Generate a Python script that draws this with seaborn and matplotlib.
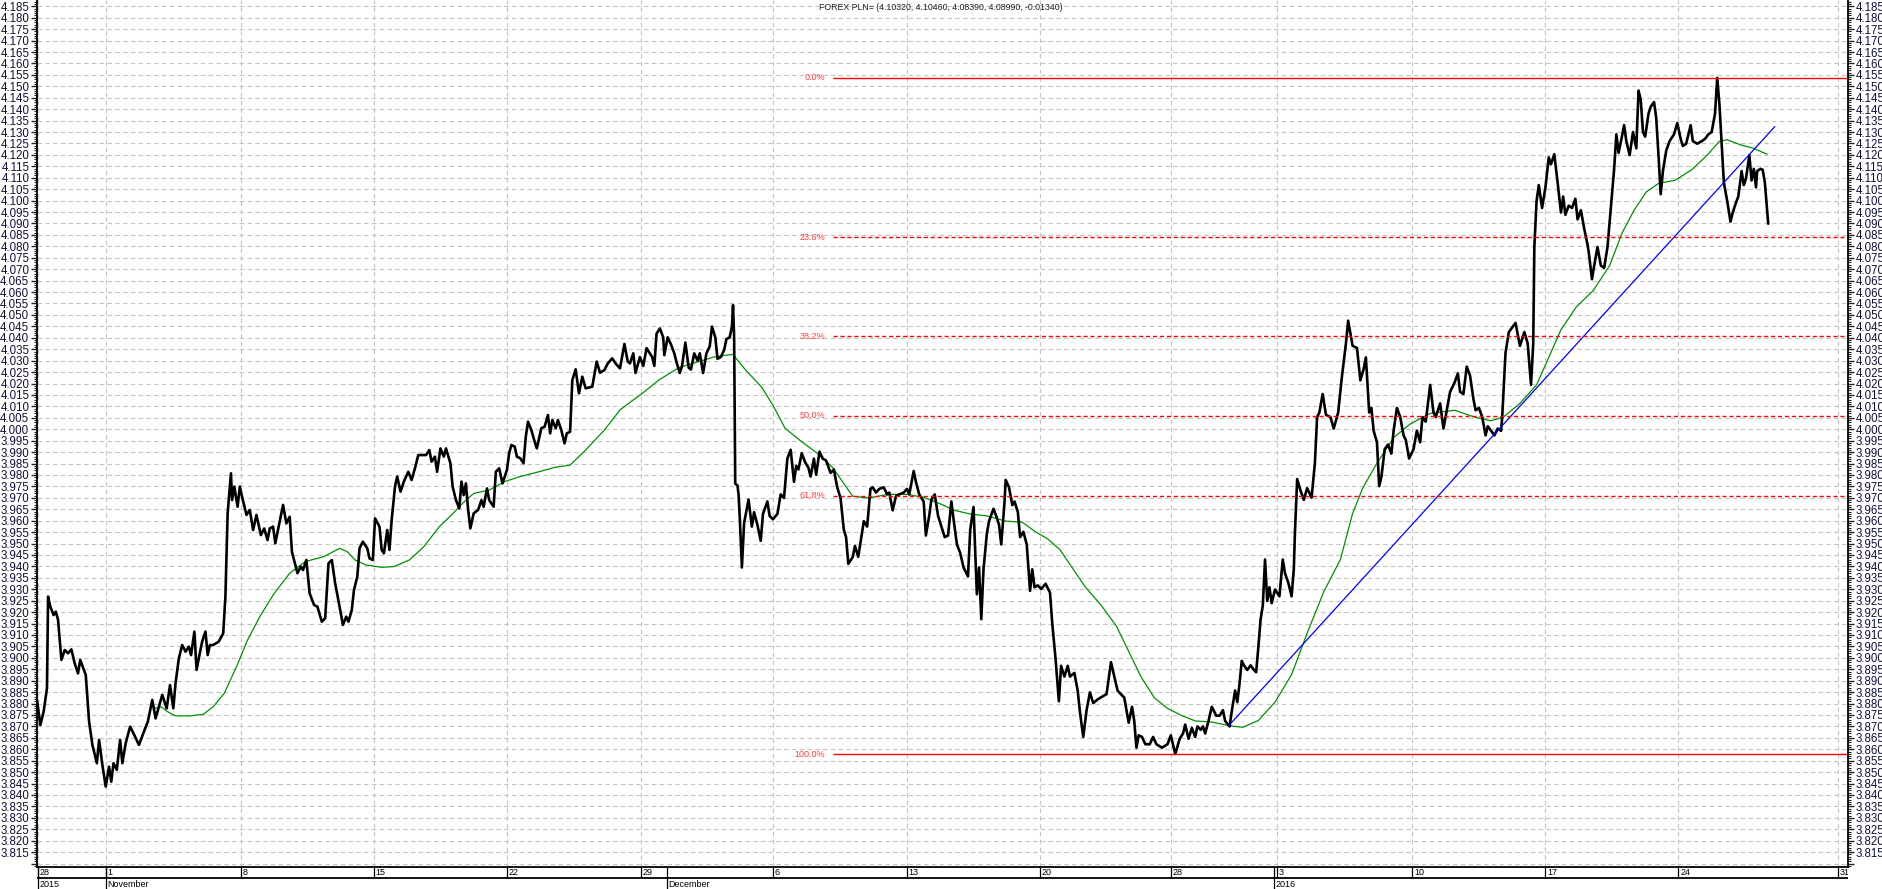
import numpy as np
import pandas as pd
import matplotlib
matplotlib.use("Agg")
from matplotlib import pyplot as plt
from matplotlib.ticker import MultipleLocator, FuncFormatter
import seaborn as sns

# hourly bar index / close price
hours = [0, 3, 6, 9, 10, 12, 15, 17, 19, 22, 25, 28, 31, 34, 37, 39, 44, 47, 50, 54,
         56, 59, 62, 65, 67, 69, 72, 75, 77, 80, 84, 87, 92, 97, 100, 104, 107, 110, 113, 117,
         120, 123, 125, 128, 131, 134, 137, 139, 142, 144, 146, 149, 152, 154, 156, 159, 164, 168, 170, 172,
         175, 176, 178, 181, 183, 185, 189, 192, 195, 198, 202, 205, 208, 210, 213, 215, 218, 222, 225, 228,
         230, 235, 238, 240, 243, 246, 250, 253, 257, 260, 263, 266, 269, 273, 276, 279, 281, 284, 286, 289,
         291, 294, 298, 300, 303, 305, 309, 311, 313, 316, 318, 320, 323, 325, 328, 331, 335, 338, 341, 344,
         348, 351, 354, 356, 359, 361, 364, 367, 369, 373, 375, 378, 381, 383, 385, 387, 389, 391, 394, 398,
         401, 403, 406, 408, 412, 414, 417, 420, 424, 426, 428, 431, 433, 436, 439, 441, 443, 446, 449, 451,
         455, 458, 461, 463, 465, 468, 470, 473, 476, 478, 481, 483, 486, 489, 492, 495, 501, 505, 508, 512,
         515, 519, 522, 526, 530, 533, 535,
         538, 540, 544, 547, 550, 552, 555, 557, 559, 562, 565, 566, 569, 572, 575, 577, 580, 582, 585, 588,
         590, 593, 596, 598, 601, 604, 607, 609, 612, 614, 617, 620, 622, 625, 627, 628, 629, 630, 632, 633,
         634, 636, 638, 642, 645, 647, 650, 653, 655, 659, 661, 664, 668, 671, 674, 677, 680, 683, 685, 687,
         690, 693, 696, 698, 701, 703, 706, 709, 712, 716, 719, 722, 725, 728, 730, 732, 736, 738, 741, 743,
         746, 749, 752, 754, 757, 760, 764, 767, 769, 772, 775, 778, 782, 785, 787, 791, 793, 796, 800, 802,
         805, 807, 810, 813, 816, 819, 822, 825, 827, 830, 833, 836, 840, 842, 845, 848, 850, 852, 854, 857,
         859, 863, 866, 868, 870, 873, 874, 877, 880, 882, 885, 887, 890, 893, 896, 898, 900, 903, 906, 910,
         914, 916, 919, 922, 924, 927, 930, 932, 936, 939, 941, 944, 947, 950, 953, 957, 962, 965, 969, 972,
         975, 978, 981, 985, 988, 990, 992, 994, 997, 1000, 1004, 1007, 1010, 1015, 1020, 1023, 1027, 1031, 1034, 1036,
         1039, 1042, 1045, 1047, 1050, 1052, 1054, 1057, 1060, 1064, 1067, 1070, 1072, 1076,
         1078, 1081, 1083, 1085, 1087, 1089, 1092, 1095, 1098, 1100, 1102, 1104, 1106, 1108, 1110, 1112, 1114, 1117, 1121, 1124,
         1126, 1129, 1132, 1134, 1135, 1137, 1140, 1143, 1146, 1150, 1153, 1155, 1157, 1160, 1163, 1167, 1170, 1174, 1177, 1179,
         1181, 1183, 1187, 1191, 1194, 1197, 1199, 1202, 1204, 1206, 1209, 1211, 1213, 1216, 1219, 1222, 1224, 1227, 1230, 1233,
         1235, 1238, 1242, 1245, 1248, 1250, 1253, 1257, 1260, 1262, 1266, 1269, 1272, 1275, 1279, 1282, 1284, 1287, 1290, 1293,
         1296, 1298, 1301, 1304, 1307, 1309, 1312, 1315, 1318, 1321, 1322, 1325, 1328, 1331, 1334, 1338, 1342, 1345, 1348, 1350,
         1351, 1353, 1355, 1358, 1361, 1364, 1366, 1369, 1372, 1375, 1377, 1379, 1382, 1385, 1388, 1390, 1393, 1396, 1399, 1400,
         1403, 1405, 1408, 1411, 1414, 1417, 1420, 1423, 1425, 1427, 1430, 1432, 1434, 1437, 1440, 1443, 1445, 1447, 1449, 1451,
         1454, 1456, 1459, 1461, 1463, 1465, 1467, 1470, 1473, 1477, 1480, 1483, 1485, 1488, 1492, 1494, 1498, 1502, 1505, 1508,
         1511, 1514, 1516, 1518, 1521, 1522, 1525, 1528, 1530, 1532, 1535, 1538, 1540, 1542, 1545, 1547, 1549, 1551, 1552, 1555,
         1557, 1559, 1562]
close = [3.8816, 3.8706, 3.8765, 3.8867, 3.9268, 3.9224, 3.9187, 3.9202, 3.9166, 3.8991, 3.9034, 3.9020, 3.9037, 3.8976, 3.8932, 3.8991, 3.8925, 3.8721, 3.8619, 3.8539,
         3.8641, 3.8531, 3.8437, 3.8524, 3.8458, 3.8539, 3.8510, 3.8641, 3.8539, 3.8626, 3.8699, 3.8670, 3.8619, 3.8684, 3.8721, 3.8816, 3.8735, 3.8786, 3.8838, 3.8779,
         3.8881, 3.8779, 3.8889, 3.8998, 3.9056, 3.9027, 3.9049, 3.9012, 3.9115, 3.8947, 3.8998, 3.9071, 3.9115, 3.9012, 3.9056, 3.9056, 3.9071, 3.9107, 3.9268, 3.9632,
         3.9807, 3.9690, 3.9749, 3.9661, 3.9749, 3.9705, 3.9625, 3.9647, 3.9559, 3.9625, 3.9537, 3.9566, 3.9515, 3.9566, 3.9574, 3.9501, 3.9574, 3.9669, 3.9588, 3.9617,
         3.9464, 3.9370, 3.9399, 3.9384, 3.9428, 3.9282, 3.9231, 3.9224, 3.9158, 3.9173, 3.9413, 3.9428, 3.9326, 3.9224, 3.9144, 3.9180, 3.9158, 3.9209, 3.9297, 3.9355,
         3.9479, 3.9508, 3.9479, 3.9435, 3.9428, 3.9610, 3.9574, 3.9472, 3.9457, 3.9559, 3.9472, 3.9603, 3.9749, 3.9793, 3.9727, 3.9771, 3.9814, 3.9778, 3.9829, 3.9887,
         3.9887, 3.9887, 3.9909, 3.9858, 3.9880, 3.9814, 3.9916, 3.9880, 3.9916, 3.9851, 3.9749, 3.9690, 3.9654, 3.9771, 3.9712, 3.9763, 3.9647, 3.9566, 3.9632, 3.9647,
         3.9690, 3.9661, 3.9741, 3.9690, 3.9661, 3.9814, 3.9829, 3.9763, 3.9822, 3.9895, 3.9931, 3.9924, 3.9880, 3.9873, 3.9851, 3.9967, 4.0033, 3.9997, 3.9946, 3.9916,
         4.0004, 4.0011, 4.0062, 3.9982, 4.0040, 4.0004, 4.0040, 3.9997, 3.9938, 3.9982, 3.9989, 4.0215, 4.0262, 4.0157, 4.0230, 4.0179, 4.0186, 4.0296, 4.0247, 4.0259,
         4.0288, 4.0310, 4.0288, 4.0266, 4.0373, 4.0296, 4.0288,
         4.0332, 4.0246, 4.0316, 4.0277, 4.0355, 4.0339, 4.0316, 4.0277, 4.0418, 4.0441, 4.0402, 4.0324, 4.0402, 4.0371, 4.0332, 4.0293, 4.0246, 4.0277, 4.0379, 4.0269,
         4.0261, 4.0332, 4.0300, 4.0332, 4.0246, 4.0332, 4.0363, 4.0449, 4.0402, 4.0308, 4.0316, 4.0347, 4.0394, 4.0402, 4.0449, 4.0543, 4.0402, 3.9762, 3.9754, 3.9715,
         3.9621, 3.9395, 3.9590, 3.9692, 3.9574, 3.9637, 3.9582, 3.9512, 3.9629, 3.9684, 3.9621, 3.9606, 3.9629, 3.9715, 3.9699, 3.9871, 3.9910, 3.9770, 3.9840, 3.9824,
         3.9895, 3.9856, 3.9832, 3.9793, 3.9871, 3.9801, 3.9902, 3.9871, 3.9863, 3.9809, 3.9824, 3.9746, 3.9699, 3.9559, 3.9528, 3.9411, 3.9441, 3.9489, 3.9442, 3.9504,
         3.9598, 3.9574, 3.9739, 3.9746, 3.9723, 3.9739, 3.9746, 3.9715, 3.9723, 3.9645, 3.9707, 3.9715, 3.9723, 3.9739, 3.9715, 3.9817, 3.9770, 3.9715, 3.9684, 3.9535,
         3.9621, 3.9692, 3.9715, 3.9621, 3.9574, 3.9528, 3.9535, 3.9684, 3.9606, 3.9496, 3.9458, 3.9395, 3.9356, 3.9559, 3.9660, 3.9278, 3.9395, 3.9169, 3.9387, 3.9543,
         3.9598, 3.9652, 3.9613, 3.9582, 3.9496, 3.9684, 3.9778, 3.9746, 3.9668, 3.9684, 3.9637, 3.9528, 3.9551, 3.9496, 3.9293, 3.9387, 3.9309, 3.9317, 3.9301, 3.9324,
         3.9285, 3.9152, 3.8996, 3.8810, 3.8965, 3.8918, 3.8965, 3.8918, 3.8934, 3.8856, 3.8763, 3.8654, 3.8771, 3.8849, 3.8802, 3.8818, 3.8833, 3.8841, 3.8981, 3.8918,
         3.8856, 3.8841, 3.8826, 3.8716, 3.8786, 3.8724, 3.8607, 3.8661, 3.8654, 3.8622, 3.8622, 3.8654, 3.8622, 3.8607, 3.8622, 3.8661, 3.8579, 3.8646, 3.8669, 3.8708,
         3.8646, 3.8693, 3.8654, 3.8700, 3.8685, 3.8700, 3.8669, 3.8724, 3.8786, 3.8747, 3.8747, 3.8771, 3.8724, 3.8700,
         3.8766, 3.8857, 3.8806, 3.8887, 3.8987, 3.8967, 3.8947, 3.8967, 3.8947, 3.8937, 3.9048, 3.9168, 3.9229, 3.9430, 3.9249, 3.9309, 3.9239, 3.9299, 3.9269, 3.9430,
         3.9370, 3.9329, 3.9269, 3.9390, 3.9550, 3.9782, 3.9732, 3.9691, 3.9742, 3.9701, 3.9852, 4.0053, 4.0073, 4.0154, 4.0063, 4.0053, 4.0003, 4.0073, 4.0214, 4.0294,
         4.0375, 4.0475, 4.0365, 4.0355, 4.0214, 4.0264, 4.0314, 4.0073, 4.0093, 3.9993, 3.9943, 3.9751, 3.9792, 3.9913, 3.9933, 3.9893, 3.9993, 4.0093, 4.0053, 3.9973,
         3.9953, 3.9872, 3.9913, 3.9993, 3.9943, 4.0053, 4.0033, 4.0194, 4.0073, 4.0053, 4.0113, 4.0003, 4.0083, 4.0164, 4.0204, 4.0244, 4.0164, 4.0154, 4.0274, 4.0234,
         4.0133, 4.0083, 4.0093, 4.0053, 3.9973, 4.0013, 3.9993, 3.9973, 4.0003, 3.9993, 4.0053, 4.0335, 4.0425, 4.0445, 4.0465, 4.0365, 4.0425, 4.0375, 4.0194, 4.0375,
         4.0797, 4.0998, 4.1068, 4.0968, 4.1058, 4.1189, 4.1159, 4.1203, 4.1079, 4.0948, 4.1018, 4.0938, 4.0978, 4.0968, 4.1008, 4.0918, 4.0958, 4.0877, 4.0807, 4.0777,
         4.0656, 4.0716, 4.0797, 4.0716, 4.0706, 4.0797, 4.0968, 4.1139, 4.1290, 4.1209, 4.1280, 4.1330, 4.1260, 4.1199, 4.1300, 4.1229, 4.1481, 4.1441, 4.1300, 4.1280,
         4.1380, 4.1411, 4.1431, 4.1360, 4.1199, 4.1028, 4.1129, 4.1219, 4.1260, 4.1290, 4.1340, 4.1270, 4.1239, 4.1249, 4.1330, 4.1260, 4.1249, 4.1260, 4.1270, 4.1290,
         4.1300, 4.1380, 4.1537, 4.1421, 4.1159, 4.1079, 4.0998, 4.0908, 4.0948, 4.0978, 4.1018, 4.1129, 4.1068, 4.1098, 4.1199, 4.1088, 4.1139, 4.1058, 4.1129, 4.1139,
         4.1135, 4.1079, 4.0899]

# moving average (green)
ma_hours = [106, 112, 118, 125, 138, 150, 159, 169, 180, 190, 201, 214, 228, 242, 259, 273, 280, 287, 297, 311,
            322, 336, 349, 363, 374, 384, 394, 408, 422, 436, 453, 467, 481, 495, 512, 526, 536, 547, 561, 579,
            597, 611, 622, 628, 639, 654, 664, 675, 689, 704, 718, 728, 736, 750, 768, 785, 800, 814, 828, 842,
            857, 874, 889, 901, 912, 923, 935, 946, 960, 974, 985, 996, 1008, 1020, 1033, 1045, 1060, 1076, 1088, 1102,
            1117, 1132, 1146, 1161, 1176, 1187, 1196, 1209, 1224, 1239, 1257, 1279, 1297, 1312, 1323, 1338, 1353, 1364, 1375, 1389,
            1404, 1419, 1430, 1441, 1452, 1463, 1478, 1493, 1507, 1518, 1525, 1537, 1548, 1561]
ma_values = [3.8779, 3.8786, 3.8764, 3.8746, 3.8746, 3.8753, 3.8786, 3.8845, 3.8961, 3.9078, 3.9180, 3.9282, 3.9370, 3.9421, 3.9443, 3.9479, 3.9464, 3.9428, 3.9406, 3.9396,
             3.9399, 3.9428, 3.9486, 3.9574, 3.9625, 3.9676, 3.9719, 3.9734, 3.9771, 3.9793, 3.9814, 3.9833, 3.9843, 3.9909, 3.9997, 4.0084, 4.0121, 4.0160, 4.0215, 4.0269,
             4.0296, 4.0316, 4.0324, 4.0327, 4.0261, 4.0183, 4.0105, 4.0004, 3.9949, 3.9895, 3.9832, 3.9762, 3.9707, 3.9699, 3.9715, 3.9715, 3.9702, 3.9676, 3.9645, 3.9629,
             3.9621, 3.9598, 3.9593, 3.9551, 3.9520, 3.9473, 3.9387, 3.9309, 3.9231, 3.9138, 3.9028, 3.8918, 3.8826, 3.8779, 3.8747, 3.8724, 3.8719, 3.8703, 3.8696, 3.8726,
             3.8806, 3.8927, 3.9108, 3.9289, 3.9430, 3.9631, 3.9741, 3.9852, 3.9963, 4.0023, 4.0069, 4.0083, 4.0053, 4.0037, 4.0053, 4.0113, 4.0194, 4.0314, 4.0435, 4.0536,
             4.0606, 4.0716, 4.0857, 4.0958, 4.1038, 4.1075, 4.1089, 4.1135, 4.1199, 4.1260, 4.1266, 4.1244, 4.1230, 4.1203]

# trend line (blue)
trend_hours = [1075, 1568]
trend_values = [3.8702, 4.1324]

# fibonacci retracement levels
fib_labels = ["0.0%", "23.6%", "38.2%", "50.0%", "61.8%", "100.0%"]
fib_values = [4.1537, 4.0839, 4.0407, 4.0058, 3.9709, 3.8579]
fib_solid = [True, False, False, False, False, True]
fib_start = 718

# date band
week_hours = [1, 62, 184, 304, 424, 545, 664, 785, 905, 1023, 1119, 1241, 1361, 1481, 1625]
week_labels = ["28", "1", "8", "15", "22", "29", "6", "13", "20", "28", "3", "10", "17", "24", "31"]
month_hours = [1, 62, 568, 1116]
month_labels = ["2015", "November", "December", "2016"]

title = "FOREX PLN= (4.10320, 4.10460, 4.08390, 4.08990, -0.01340)"

sns.set_style("white")
plt.rcParams['font.family'] = ['Liberation Sans', 'DejaVu Sans']

W, H = 1883, 889
fig = plt.figure(figsize=(W / 100, H / 100), dpi=100)
ax = fig.add_axes([37 / W, 22 / H, (1848 - 37) / W, 867 / H])
band = fig.add_axes([37 / W, 0, (1848 - 37) / W, 22 / H])

x_max = 1634
ax.set_xlim(0, x_max)
ax.set_ylim(3.8085, 4.18776)


def price_label(v, pos):
    # the lowest gridline (3.810) has a tick but no label
    return "" if v < 3.8125 else "%.3f" % v


# grid
grid_kw = dict(color="#c4c4c4", linewidth=0.8, linestyle=(0, (4, 3)))
ax.yaxis.set_major_locator(MultipleLocator(0.005))
ax.yaxis.set_minor_locator(MultipleLocator(0.001))
ax.yaxis.set_major_formatter(FuncFormatter(price_label))
ax.set_xticks(week_hours)
ax.set_xticklabels([])
ax.grid(True, which="major", **grid_kw)
ax.set_axisbelow(True)

# price, moving average and trend line
sns.lineplot(x=ma_hours, y=ma_values, ax=ax, color="#009000", linewidth=0.9,
             sort=False, estimator=None)
sns.lineplot(x=hours, y=close, ax=ax, color="black", linewidth=1.9,
             sort=False, estimator=None)
sns.lineplot(x=trend_hours, y=trend_values, ax=ax, color="#0000ff", linewidth=0.9,
             sort=False, estimator=None)

# fibonacci lines
for lab, val, solid in zip(fib_labels, fib_values, fib_solid):
    ax.hlines(val, fib_start, x_max, colors="#ff0000", linewidth=1.0,
              linestyles="-" if solid else (0, (3, 2)))
    ax.text(fib_start - 7, val, lab, ha="right", va="center",
            color="#ff3c3c", fontsize=6.5)

ax.set_xlabel("")
ax.set_ylabel("")

# axes frame / ticks
ax.spines["top"].set_visible(False)
for side in ["left", "right", "bottom"]:
    ax.spines[side].set_visible(True)
    ax.spines[side].set_color("black")
    ax.spines[side].set_linewidth(1.3)
ax.tick_params(axis="y", which="both", left=True, right=True,
               labelleft=True, labelright=True, direction="out",
               labelsize=8.3, labelcolor="#10103a", pad=1.5)
ax.tick_params(axis="y", which="major", length=4, width=1)
ax.tick_params(axis="y", which="minor", length=2.2, width=0.8)
ax.tick_params(axis="x", which="both", length=0)

# title line at the top
fig.text(941 / W, 1 - 7 / H, title, ha="center", va="center", fontsize=6.3,
         color="#202020")

# date band
band.set_xlim(0, x_max)
band.set_ylim(0, 1)
band.axis("off")
band.axhline(0.5, color="black", linewidth=1.3)
for h, lab in zip(week_hours, week_labels):
    band.vlines(h, 0.5, 1, color="black", linewidth=0.9)
    band.text(h + 1.5, 0.74, lab, ha="left", va="center", fontsize=6.5,
              color="black", clip_on=True)
for h, lab in zip(month_hours, month_labels):
    band.vlines(h, 0, 1, color="black", linewidth=0.9)
    band.text(h + 1.5, 0.22, lab, ha="left", va="center", fontsize=6.5,
              color="black", clip_on=True)

fig.savefig("out.png", dpi=100)
